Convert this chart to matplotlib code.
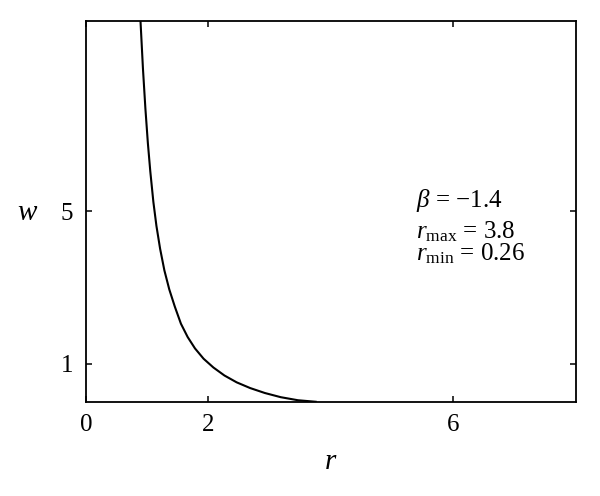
import matplotlib
matplotlib.use('Agg')
import matplotlib.pyplot as plt

# curve (r, w)
r_vals = [0.89, 0.93, 0.97, 1.01, 1.05, 1.10, 1.15, 1.21, 1.28, 1.36, 1.45,
          1.55, 1.66, 1.78, 1.92, 2.08, 2.26, 2.46, 2.68, 2.92, 3.18, 3.46,
          3.75]
w_vals = [10.0, 8.75, 7.7, 6.8, 6.05, 5.25, 4.62, 4.02, 3.45, 2.95, 2.50,
          2.05, 1.70, 1.40, 1.13, 0.90, 0.69, 0.51, 0.36, 0.23, 0.12, 0.04,
          0.0]

x_ticks = [0, 2, 6]
y_ticks = [1, 5]
beta = -1.4
r_max = 3.8
r_min = 0.26

plt.rcParams['font.family'] = ['Liberation Serif', 'DejaVu Serif']
plt.rcParams['mathtext.fontset'] = 'custom'
plt.rcParams['mathtext.rm'] = 'Liberation Serif'
plt.rcParams['mathtext.it'] = 'Liberation Serif:italic'

fig = plt.figure(figsize=(6, 4.96), dpi=100)
ax = fig.add_axes([0.1433, 0.190, 0.8167, 0.7677])

ax.plot(r_vals, w_vals, color='black', lw=1.5, solid_joinstyle='round')

ax.set_xlim(0, 8)
ax.set_ylim(0, 10)
ax.set_xticks(x_ticks)
ax.set_yticks(y_ticks)
ax.tick_params(direction='in', length=4, width=1.1, top=True, right=True,
               labelsize=18)
ax.tick_params(axis='x', pad=9)
ax.tick_params(axis='y', pad=9)
for s in ax.spines.values():
    s.set_linewidth(1.3)

fig.text(331 / 600, 1 - 462 / 496, r'$r$', fontsize=21, ha='center', va='center')
fig.text(28 / 600, 1 - 213 / 496, r'$w$', fontsize=21, ha='center', va='center')

ax.text(5.38, 5.115, r'$\beta$ = $-$%.1f' % abs(beta), fontsize=18, va='baseline', ha='left')
ax.text(5.38, 4.30, r'$r_{\rm max}$ = %.1f' % r_max, fontsize=18, va='baseline', ha='left')
ax.text(5.38, 3.714, r'$r_{\rm min}$ = %.2f' % r_min, fontsize=18, va='baseline', ha='left')

fig.savefig('out.png', dpi=100)
